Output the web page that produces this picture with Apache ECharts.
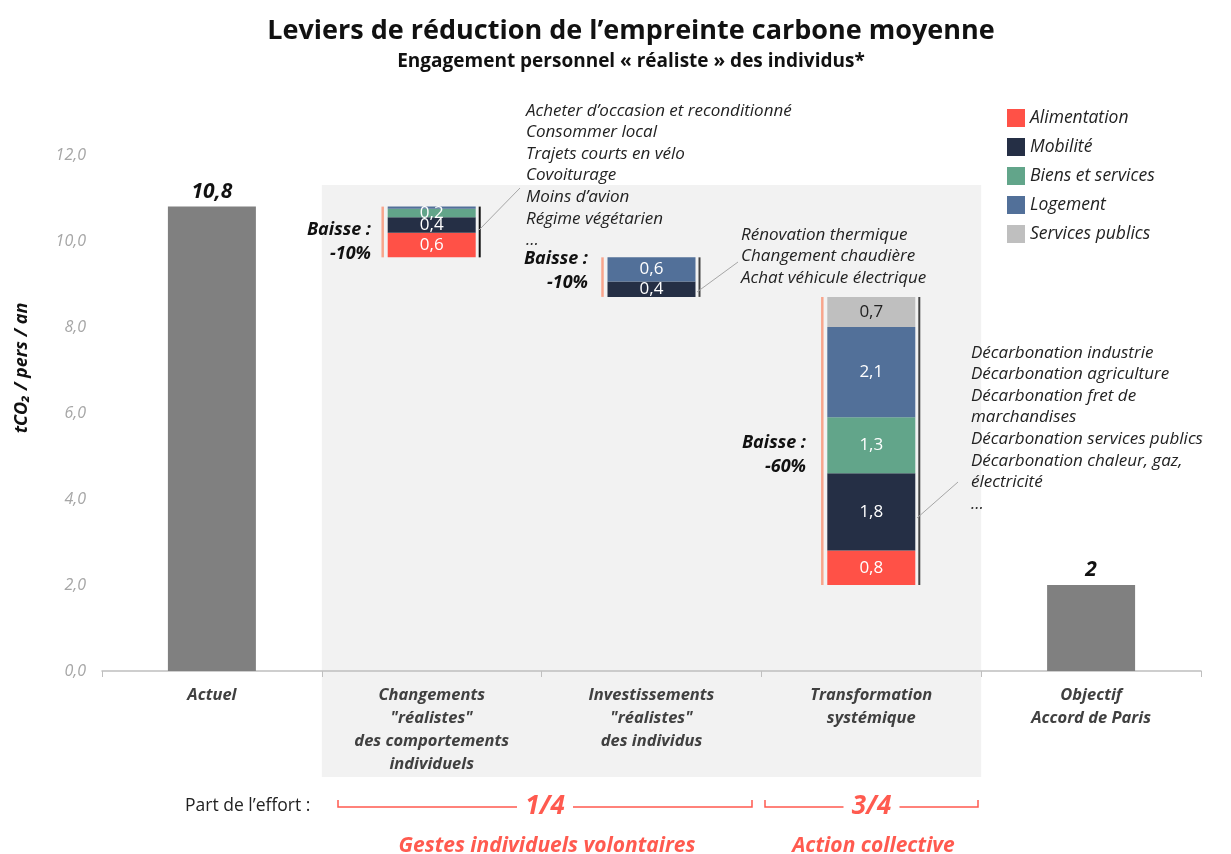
<!DOCTYPE html>
<html>
<head>
<meta charset="utf-8">
<script src="https://cdn.jsdelivr.net/npm/echarts@6/dist/echarts.min.js"></script>
<style>
  html, body { margin: 0; padding: 0; background: #fff; }
  #chart { width: 1231px; height: 854px; }
</style>
</head>
<body>
<div id="chart"></div>
<script>
// categories
const categories = [
    'Actuel',
    'Changements\n"réalistes"\ndes comportements\nindividuels',
    'Investissements\n"réalistes"\ndes individus',
    'Transformation\nsystémique',
    'Objectif\nAccord de Paris'
];
// waterfall: invisible base + segments
const baseValues = [0, 9.62, 8.7, 2.0, 0];
const totals = [10.8, 0, 0, 0, 2];
const alimentation = [0, 0.57, 0, 0.8, 0];
const mobilite = [0, 0.36, 0.36, 1.8, 0];
const biens = [0, 0.2, 0, 1.3, 0];
const logement = [0, 0.05, 0.56, 2.1, 0];
const servicesPublics = [0, 0, 0, 0.7, 0];
const yTicks = [0, 2, 4, 6, 8, 10, 12];

const FONT = 'Open Sans';
const colors = {
    alim: '#FF5147',
    mob: '#252F45',
    biens: '#62A58A',
    log: '#527099',
    sp: '#BFBFBF',
    total: '#808080'
};

const segLabel = (color) => ({
    show: true,
    position: 'inside',
    color: color,
    fontFamily: FONT,
    fontSize: 17,
    formatter: p => p.value < 0.1 ? '' : p.value.toFixed(1).replace('.', ',')
});

function segment(name, data, color, labelColor) {
    return {
        name: name,
        type: 'bar',
        stack: 'w',
        barWidth: 88,
        data: data,
        itemStyle: { color: color },
        label: segLabel(labelColor || '#fff'),
        emphasis: { disabled: true }
    };
}

let dom = document.getElementById('chart');
let chart = echarts.init(dom);

let option = {
    animation: false,
    textStyle: { fontFamily: FONT },
    title: {
        text: 'Leviers de réduction de l’empreinte carbone moyenne',
        subtext: 'Engagement personnel « réaliste » des individus*',
        left: 626,
        top: 13,
        textAlign: 'center',
        itemGap: 7,
        textStyle: { fontFamily: FONT, fontSize: 27, fontWeight: 'bold', color: '#111' },
        subtextStyle: { fontFamily: FONT, fontSize: 19, fontWeight: 'bold', color: '#111' }
    },
    legend: {
        data: ['Alimentation', 'Mobilité', 'Biens et services', 'Logement', 'Services publics'],
        orient: 'vertical',
        left: 1002,
        top: 104,
        itemWidth: 18,
        itemHeight: 18,
        itemGap: 11,
        icon: 'rect',
        textStyle: { fontFamily: FONT, fontSize: 17.5, fontStyle: 'italic', color: '#222' }
    },
    grid: { left: 102, right: 30, top: 155, bottom: 183, containLabel: false },
    xAxis: {
        type: 'category',
        data: categories,
        axisLine: { lineStyle: { color: '#BFBFBF', width: 1.5 } },
        axisTick: { show: true, length: 6, lineStyle: { color: '#BFBFBF' } },
        axisLabel: {
            interval: 0,
            margin: 13,
            fontFamily: FONT,
            fontSize: 16.5,
            fontWeight: 'bold',
            fontStyle: 'italic',
            color: '#404040',
            lineHeight: 23
        }
    },
    yAxis: {
        type: 'value',
        min: 0,
        max: 12,
        interval: 2,
        axisLine: { show: false },
        axisTick: { show: false },
        splitLine: { show: false },
        axisLabel: {
            margin: 16,
            fontFamily: FONT,
            fontSize: 16,
            fontStyle: 'italic',
            color: '#A6A6A6',
            formatter: v => yTicks.indexOf(v) >= 0 ? v.toFixed(1).replace('.', ',') : ''
        }
    },
    series: [
        {
            name: 'base',
            type: 'bar',
            stack: 'w',
            barWidth: 88,
            data: baseValues,
            itemStyle: { color: 'transparent' },
            silent: true,
            emphasis: { disabled: true }
        },
        {
            name: 'Total',
            type: 'bar',
            stack: 'w',
            barWidth: 88,
            data: totals,
            itemStyle: { color: colors.total },
            emphasis: { disabled: true },
            label: {
                show: true,
                position: 'top',
                distance: 4,
                fontFamily: FONT,
                fontSize: 21,
                fontWeight: 'bold',
                fontStyle: 'italic',
                color: '#111',
                formatter: p => p.value ? String(p.value).replace('.', ',') : ''
            }
        },
        segment('Alimentation', alimentation, colors.alim),
        segment('Mobilité', mobilite, colors.mob),
        segment('Biens et services', biens, colors.biens),
        segment('Logement', logement, colors.log),
        segment('Services publics', servicesPublics, colors.sp, '#222')
    ]
};
chart.setOption(option);

// --- annotations, positioned through the axes ---
const px = (ci, v) => chart.convertToPixel({ xAxisIndex: 0, yAxisIndex: 0 }, [ci, v]);
const bw = 88;
let g = [];

// y axis title
g.push({
    type: 'text', z: 10, x: 22, y: 368, rotation: Math.PI / 2,
    style: { text: 'tCO₂ / pers / an', fill: '#111', font: 'italic bold 18px ' + FONT, textAlign: 'center', textVerticalAlign: 'middle' }
});

// grey panel behind the middle three categories
let pTop = px(1, 11.3);
let cw = px(2, 0)[0] - px(1, 0)[0];
g.push({
    type: 'rect', z: -10, silent: true,
    shape: { x: px(1, 0)[0] - cw / 2, y: pTop[1], width: cw * 3, height: 777 - pTop[1] },
    style: { fill: '#F2F2F2' }
});

// vertical brackets beside each reduction bar
function sumAt(i) {
    return alimentation[i] + mobilite[i] + biens[i] + logement[i] + servicesPublics[i];
}
[1, 2, 3].forEach(i => {
    let top = px(i, baseValues[i] + sumAt(i));
    let bot = px(i, baseValues[i]);
    let xl = top[0] - bw / 2 - 5;
    let xr = top[0] + bw / 2 + 4;
    g.push({ type: 'line', z: 10, shape: { x1: xl, y1: top[1], x2: xl, y2: bot[1] }, style: { stroke: '#F8A58C', lineWidth: 2.5 } });
    g.push({ type: 'line', z: 10, shape: { x1: xr, y1: top[1], x2: xr, y2: bot[1] }, style: { stroke: i === 1 ? '#111' : '#444', lineWidth: 2 } });
});

// leader lines
const leaders = [[479, 230, 520, 188], [697, 292, 738, 262], [917, 518, 958, 482]];
leaders.forEach(l => {
    g.push({ type: 'line', z: 10, shape: { x1: l[0], y1: l[1], x2: l[2], y2: l[3] }, style: { stroke: '#A6A6A6', lineWidth: 1 } });
});

// lever lists
const list1 = ['Acheter d’occasion et reconditionné', 'Consommer local', 'Trajets courts en vélo', 'Covoiturage', 'Moins d’avion', 'Régime végétarien', '…'];
const list2 = ['Rénovation thermique', 'Changement chaudière', 'Achat véhicule électrique'];
const list3 = ['Décarbonation industrie', 'Décarbonation agriculture', 'Décarbonation fret de', 'marchandises', 'Décarbonation services publics', 'Décarbonation chaleur, gaz,', 'électricité', '…'];
function listText(lines, x, y) {
    g.push({
        type: 'text', z: 10, x: x, y: y,
        style: {
            text: lines.join('\n'), fill: '#222', font: 'italic 17px ' + FONT,
            lineHeight: 21.6, textVerticalAlign: 'top'
        }
    });
}
listText(list1, 526, 100);
listText(list2, 741, 224);
listText(list3, 971, 342);

// "Baisse" labels
const drops = [[371, 242, '-10%'], [588, 271, '-10%'], [806, 455, '-60%']];
drops.forEach(d => {
    g.push({
        type: 'text', z: 10, x: d[0], y: d[1],
        style: {
            text: 'Baisse :\n' + d[2], fill: '#111', font: 'italic bold 18px ' + FONT,
            textAlign: 'right', textVerticalAlign: 'middle', lineHeight: 24
        }
    });
});

// effort share
const red = '#FF5A4F';
g.push({ type: 'text', z: 10, x: 185, y: 806, style: { text: 'Part de l’effort :', fill: '#222', font: '17.5px ' + FONT, textVerticalAlign: 'middle' } });
function bracket(x1, x2, label, caption) {
    let yb = 807;
    g.push({ type: 'polyline', z: 10, shape: { points: [[x1, yb - 7], [x1, yb], [x2, yb], [x2, yb - 7]] }, style: { stroke: red, lineWidth: 1.5, fill: null } });
    let cx = (x1 + x2) / 2;
    g.push({ type: 'rect', z: 11, shape: { x: cx - 28, y: yb - 24, width: 56, height: 46 }, style: { fill: '#fff' } });
    g.push({ type: 'text', z: 12, x: cx, y: yb, style: { text: label, fill: red, font: 'italic bold 26px ' + FONT, textAlign: 'center', textVerticalAlign: 'middle' } });
    g.push({ type: 'text', z: 12, x: cx + 2, y: 846, style: { text: caption, fill: red, font: 'italic bold 21px ' + FONT, textAlign: 'center', textVerticalAlign: 'middle' } });
}
bracket(338, 752, '1/4', 'Gestes individuels volontaires');
bracket(765, 978, '3/4', 'Action collective');

chart.setOption({ graphic: g });
</script>
</body>
</html>
